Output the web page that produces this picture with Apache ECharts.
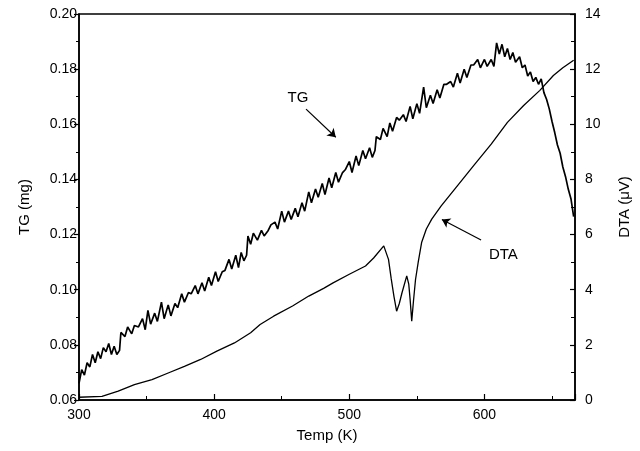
<!DOCTYPE html>
<html>
<head>
<meta charset="utf-8">
<script src="https://cdn.jsdelivr.net/npm/echarts@6/dist/echarts.min.js"></script>
<style>
  html, body { margin: 0; padding: 0; background: #fff; }
  #chart { width: 640px; height: 451px; }
</style>
</head>
<body>
<div id="chart"></div>
<script>
// temperature (K) and TG (mg)
var tgTemp = [
  300, 302, 304, 306, 308, 310, 312, 314, 316, 318, 320, 322, 324, 326, 328, 330,
  331, 334, 336, 339, 341, 344, 347, 349, 351, 353, 356, 358, 361, 363, 366, 368,
  371, 373, 376, 378, 381, 383, 386, 388, 391, 393, 396, 398, 401, 403, 406, 408,
  411, 413, 416, 418, 420, 422, 424, 425, 427, 429, 432, 435, 437, 440, 442, 445,
  447, 450, 452, 455, 457, 460, 462, 465, 467, 470, 472, 475, 477, 480, 482, 485,
  487, 490, 492, 495, 497, 500, 502, 505, 507, 510, 512, 515, 517, 519, 520, 523,
  525, 528, 530, 532, 535, 537, 540, 542, 545, 547, 550, 552, 555, 557, 560, 562,
  565, 567, 570, 572, 575, 577, 580, 582, 585, 587, 590, 592, 595, 597, 600, 602,
  605, 607, 609, 611, 613, 615, 617, 619, 621, 623, 626, 628, 630, 632, 634, 636,
  638, 640, 642, 644, 646, 648, 650, 652, 654, 656, 658, 660, 662, 664, 666
];
var tgValues = [
  0.066, 0.071, 0.069, 0.0735, 0.072, 0.0765, 0.0735, 0.0775, 0.075, 0.079, 0.0775, 0.0805, 0.0765, 0.0795, 0.0765, 0.078,
  0.0845, 0.083, 0.0865, 0.084, 0.087, 0.0865, 0.0895, 0.0855, 0.0925, 0.0875, 0.0915, 0.0885, 0.0955, 0.0895, 0.0945, 0.0905,
  0.095, 0.0935, 0.0985, 0.0955, 0.099, 0.0985, 0.1015, 0.0985, 0.1025, 0.0995, 0.1045, 0.1015, 0.1065, 0.103, 0.1065, 0.107,
  0.111, 0.1075, 0.1125, 0.108, 0.1135, 0.1105, 0.1125, 0.1195, 0.1165, 0.1205, 0.118, 0.1215, 0.1195, 0.1215, 0.1235, 0.1245,
  0.122, 0.1285, 0.1245, 0.1285, 0.1255, 0.1295, 0.1265, 0.1315, 0.1285, 0.1355, 0.1315, 0.1365, 0.1335, 0.1385, 0.1345, 0.1405,
  0.137, 0.1425, 0.139, 0.1425, 0.1435, 0.1465, 0.1425, 0.1485, 0.145, 0.1505, 0.1475, 0.1515, 0.148, 0.1505, 0.1555, 0.1545,
  0.1585, 0.1555, 0.1605, 0.1575, 0.1625, 0.1615, 0.1635, 0.161, 0.1665, 0.162, 0.1675, 0.164, 0.1735, 0.166, 0.1705, 0.1675,
  0.1725, 0.1695, 0.1745, 0.1745, 0.1755, 0.1735, 0.1785, 0.175, 0.18, 0.177, 0.1815, 0.1815, 0.1835, 0.1805, 0.1835, 0.181,
  0.1835, 0.181, 0.1895, 0.1855, 0.189, 0.1845, 0.1875, 0.1835, 0.186, 0.1825, 0.1845, 0.1805, 0.1815, 0.1775, 0.179, 0.1755,
  0.177, 0.1745, 0.1765, 0.1715, 0.169, 0.1655, 0.161, 0.157, 0.1525, 0.1495, 0.1445, 0.141, 0.1365, 0.133, 0.1265
];

// temperature (K) and DTA (µV)
var dtaTemp = [
  300, 317, 329, 341, 354, 366, 378, 390, 402, 415, 427, 434, 444, 458, 470, 481,
  488, 500, 512, 518, 525.5, 529, 531, 533, 535, 537, 539, 542.5, 544, 545, 546.2,
  547.5, 549, 551, 553.5, 557, 561, 568, 578, 592, 605, 617, 629, 641, 651, 658, 666
];
var dtaValues = [
  0.1, 0.13, 0.32, 0.56, 0.74, 0.98, 1.22, 1.47, 1.77, 2.07, 2.44, 2.74, 3.04, 3.41, 3.77, 4.05,
  4.25, 4.56, 4.86, 5.15, 5.59, 5.1, 4.4, 3.77, 3.22, 3.5, 3.89, 4.5, 4.2, 3.65, 2.86,
  3.6, 4.37, 5.0, 5.71, 6.2, 6.56, 7.04, 7.65, 8.5, 9.28, 10.07, 10.68, 11.23, 11.77, 12.05, 12.32
];

var xTicks = [300, 400, 500, 600];

function pairs(xs, ys) {
  return xs.map(function (x, i) { return [x, ys[i]]; });
}

var chart = echarts.init(document.getElementById('chart'));

var font = 'Liberation Sans, Arial, sans-serif';

var option = {
  animation: false,
  backgroundColor: '#fff',
  textStyle: { fontFamily: font, color: '#000' },
  grid: {
    left: 79, right: 58, top: 14, bottom: 51,
    show: true, borderColor: '#000', borderWidth: 1.5, backgroundColor: 'transparent'
  },
  xAxis: {
    type: 'value',
    min: 300, max: 667, interval: 100,
    name: 'Temp (K)', nameLocation: 'middle', nameGap: 28,
    nameTextStyle: { fontSize: 15, color: '#000', fontFamily: font },
    axisLine: { lineStyle: { color: '#000', width: 1.5 } },
    axisTick: { inside: true, length: 6, lineStyle: { color: '#000', width: 1.2 } },
    minorTick: { show: true, splitNumber: 2, length: 4, lineStyle: { color: '#000' } },
    splitLine: { show: false },
    axisLabel: {
      color: '#000', fontSize: 14, fontFamily: font, margin: 8,
      formatter: function (v) { return xTicks.indexOf(v) >= 0 ? String(v) : ''; }
    }
  },
  yAxis: [
    {
      type: 'value',
      min: 0.06, max: 0.20, interval: 0.02,
      name: 'TG (mg)', nameLocation: 'middle', nameGap: 47, nameRotate: 90,
      nameTextStyle: { fontSize: 15, color: '#000', fontFamily: font },
      axisLine: { show: true, lineStyle: { color: '#000', width: 1.5 } },
      axisTick: { show: true, length: 5, lineStyle: { color: '#000', width: 1.2 } },
      minorTick: { show: true, splitNumber: 2, length: 3, lineStyle: { color: '#000' } },
      splitLine: { show: false },
      axisLabel: {
        color: '#000', fontSize: 14, fontFamily: font, margin: 2,
        formatter: function (v) { return v.toFixed(2); }
      }
    },
    {
      type: 'value',
      position: 'right',
      min: 0, max: 14, interval: 2,
      name: 'DTA (\u03bcV)', nameLocation: 'middle', nameGap: 42, nameRotate: 90,
      nameTextStyle: { fontSize: 15, color: '#000', fontFamily: font },
      axisLine: { show: true, lineStyle: { color: '#000', width: 1.5 } },
      axisTick: { show: true, inside: true, length: 5, lineStyle: { color: '#000', width: 1.2 } },
      minorTick: { show: true, splitNumber: 2, length: 4, lineStyle: { color: '#000' } },
      splitLine: { show: false },
      axisLabel: { color: '#000', fontSize: 14, fontFamily: font, margin: 10 }
    }
  ],
  series: [
    {
      name: 'TG',
      type: 'line',
      yAxisIndex: 0,
      showSymbol: false,
      data: pairs(tgTemp, tgValues),
      lineStyle: { color: '#000', width: 1.7 },
      markLine: {
        silent: true,
        symbol: ['none', 'arrow'], symbolSize: 8,
        label: { show: false },
        lineStyle: { color: '#000', width: 1.2, type: 'solid' },
        data: [[{ coord: [468, 0.1655] }, { coord: [490, 0.1553] }]]
      },
      markPoint: {
        silent: true,
        symbol: 'circle', symbolSize: 1,
        itemStyle: { color: 'transparent' },
        label: { show: true, position: 'inside', color: '#000', fontSize: 15, fontFamily: font, formatter: 'TG' },
        data: [{ coord: [462, 0.1695] }]
      }
    },
    {
      name: 'DTA',
      type: 'line',
      yAxisIndex: 1,
      showSymbol: false,
      data: pairs(dtaTemp, dtaValues),
      lineStyle: { color: '#000', width: 1.3 },
      markLine: {
        silent: true,
        symbol: ['none', 'arrow'], symbolSize: 8,
        label: { show: false },
        lineStyle: { color: '#000', width: 1.2, type: 'solid' },
        data: [[{ coord: [597.5, 5.8] }, { coord: [568.5, 6.55] }]]
      },
      markPoint: {
        silent: true,
        symbol: 'circle', symbolSize: 1,
        itemStyle: { color: 'transparent' },
        label: { show: true, position: 'inside', color: '#000', fontSize: 15, fontFamily: font, formatter: 'DTA' },
        data: [{ coord: [614, 5.25] }]
      }
    }
  ]
};

chart.setOption(option);
</script>
</body>
</html>
